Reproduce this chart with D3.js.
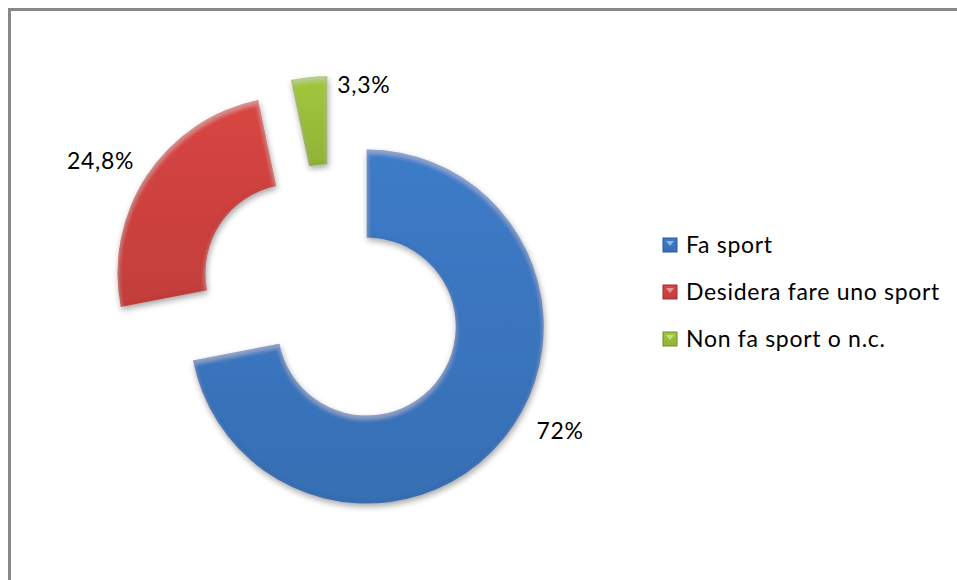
<!DOCTYPE html>
<html lang="it">
<head>
<meta charset="utf-8">
<script src="https://d3js.org/d3.v7.min.js"></script>
<style>
  body { margin: 0; background: #fff; }
  text { font-family: Lato, "Open Sans", sans-serif; fill: #000; letter-spacing: 0.7px; }
</style>
</head>
<body>
<div id="chart"></div>
<script>
// data
var categories = ["Fa sport", "Desidera fare uno sport", "Non fa sport o n.c."];
var values = [72, 24.8, 3.3];
var valueLabels = ["72%", "24,8%", "3,3%"];

// plot setup
var width = 957, height = 580;
var cx = 332, cy = 298;
var outerR = 177, innerR = 89;
var explode = 45;
var colors = ["#3b77c1", "#d0433f", "#9cc03a"];
var darkColors = ["#2b5a94", "#9c2e2c", "#6f8c2a"];
// label nudges away from the plain mid-angle position
var labelRadius = [263, 268, 215];
var labelNudge = [[25, -34], [-8, 11], [54, 1]];

var svg = d3.select("#chart").append("svg")
    .attr("width", width)
    .attr("height", height);

// border (frame runs off right and bottom)
svg.append("path")
    .attr("d", "M9.5," + height + "V9.5H" + width)
    .attr("fill", "none")
    .attr("stroke", "#878787")
    .attr("stroke-width", 3);

var defs = svg.append("defs");

// soft bevel + drop shadow
var f = defs.append("filter").attr("id", "bevel")
    .attr("x", "-20%").attr("y", "-20%").attr("width", "140%").attr("height", "140%");
f.append("feGaussianBlur").attr("in", "SourceAlpha").attr("stdDeviation", 2.5).attr("result", "blur");
f.append("feComponentTransfer").attr("in", "blur").attr("result", "inv")
  .append("feFuncA").attr("type", "table").attr("tableValues", "1 0");
f.append("feFlood").attr("flood-color", "#000").attr("flood-opacity", 0.35).attr("result", "black");
f.append("feComposite").attr("in", "black").attr("in2", "inv").attr("operator", "in").attr("result", "edge0");
f.append("feComposite").attr("in", "edge0").attr("in2", "SourceAlpha").attr("operator", "in").attr("result", "edge");
f.append("feOffset").attr("in", "inv").attr("dx", 0).attr("dy", 3).attr("result", "invOff");
f.append("feFlood").attr("flood-color", "#fff").attr("flood-opacity", 0.35).attr("result", "white");
f.append("feComposite").attr("in", "white").attr("in2", "invOff").attr("operator", "in").attr("result", "hl0");
f.append("feComposite").attr("in", "hl0").attr("in2", "SourceAlpha").attr("operator", "in").attr("result", "hl");
f.append("feGaussianBlur").attr("in", "SourceAlpha").attr("stdDeviation", 3).attr("result", "sblur");
f.append("feOffset").attr("in", "sblur").attr("dx", 1).attr("dy", 3).attr("result", "soff");
f.append("feComponentTransfer").attr("in", "soff").attr("result", "shadow")
  .append("feFuncA").attr("type", "linear").attr("slope", 0.35);
var m = f.append("feMerge");
m.append("feMergeNode").attr("in", "shadow");
m.append("feMergeNode").attr("in", "SourceGraphic");
m.append("feMergeNode").attr("in", "hl");
m.append("feMergeNode").attr("in", "edge");

// gradients per colour
colors.forEach(function(c, i) {
  var g = defs.append("linearGradient").attr("id", "grad" + i)
      .attr("x1", 0).attr("y1", 0).attr("x2", 0).attr("y2", 1);
  g.append("stop").attr("offset", "0%").attr("stop-color", d3.color(c).brighter(0.1));
  g.append("stop").attr("offset", "100%").attr("stop-color", d3.color(c).darker(0.2));
});

var pie = d3.pie().sort(null).value(function(d) { return d; });
var arc = d3.arc().innerRadius(innerR).outerRadius(outerR);
var arcs = pie(values);

function midAngle(d) { return (d.startAngle + d.endAngle) / 2; }

// slices
svg.append("g").selectAll("path")
    .data(arcs)
    .enter()
    .append("path")
    .attr("transform", function(d) {
      var a = midAngle(d);
      return "translate(" + (cx + explode * Math.sin(a)) + "," + (cy - explode * Math.cos(a)) + ")";
    })
    .attr("d", arc)
    .attr("fill", function(d, i) { return "url(#grad" + i + ")"; })
    .attr("filter", "url(#bevel)");

// value labels
svg.append("g").selectAll("text")
    .data(arcs)
    .enter()
    .append("text")
    .attr("x", function(d, i) { return cx + labelRadius[i] * Math.sin(midAngle(d)) + labelNudge[i][0]; })
    .attr("y", function(d, i) { return cy - labelRadius[i] * Math.cos(midAngle(d)) + labelNudge[i][1]; })
    .attr("dy", "0.35em")
    .attr("text-anchor", "middle")
    .style("font-size", "23px")
    .text(function(d, i) { return valueLabels[i]; });

// legend
var legend = svg.append("g").attr("transform", "translate(663,245)");
var items = legend.selectAll("g")
    .data(categories)
    .enter()
    .append("g")
    .attr("transform", function(d, i) { return "translate(0," + (i * 47) + ")"; });

items.append("rect")
    .attr("x", 0).attr("y", -7)
    .attr("width", 14).attr("height", 14)
    .attr("fill", function(d, i) { return "url(#grad" + i + ")"; })
    .attr("stroke", function(d, i) { return darkColors[i]; })
    .attr("stroke-width", 1);

items.append("path")
    .attr("d", "M3,-4L11,-4L7,1Z")
    .attr("fill", "#fff")
    .attr("opacity", 0.45);

items.append("text")
    .attr("x", 23)
    .attr("y", 0)
    .attr("dy", "0.35em")
    .style("font-size", "23px")
    .text(function(d) { return d; });
</script>
</body>
</html>
